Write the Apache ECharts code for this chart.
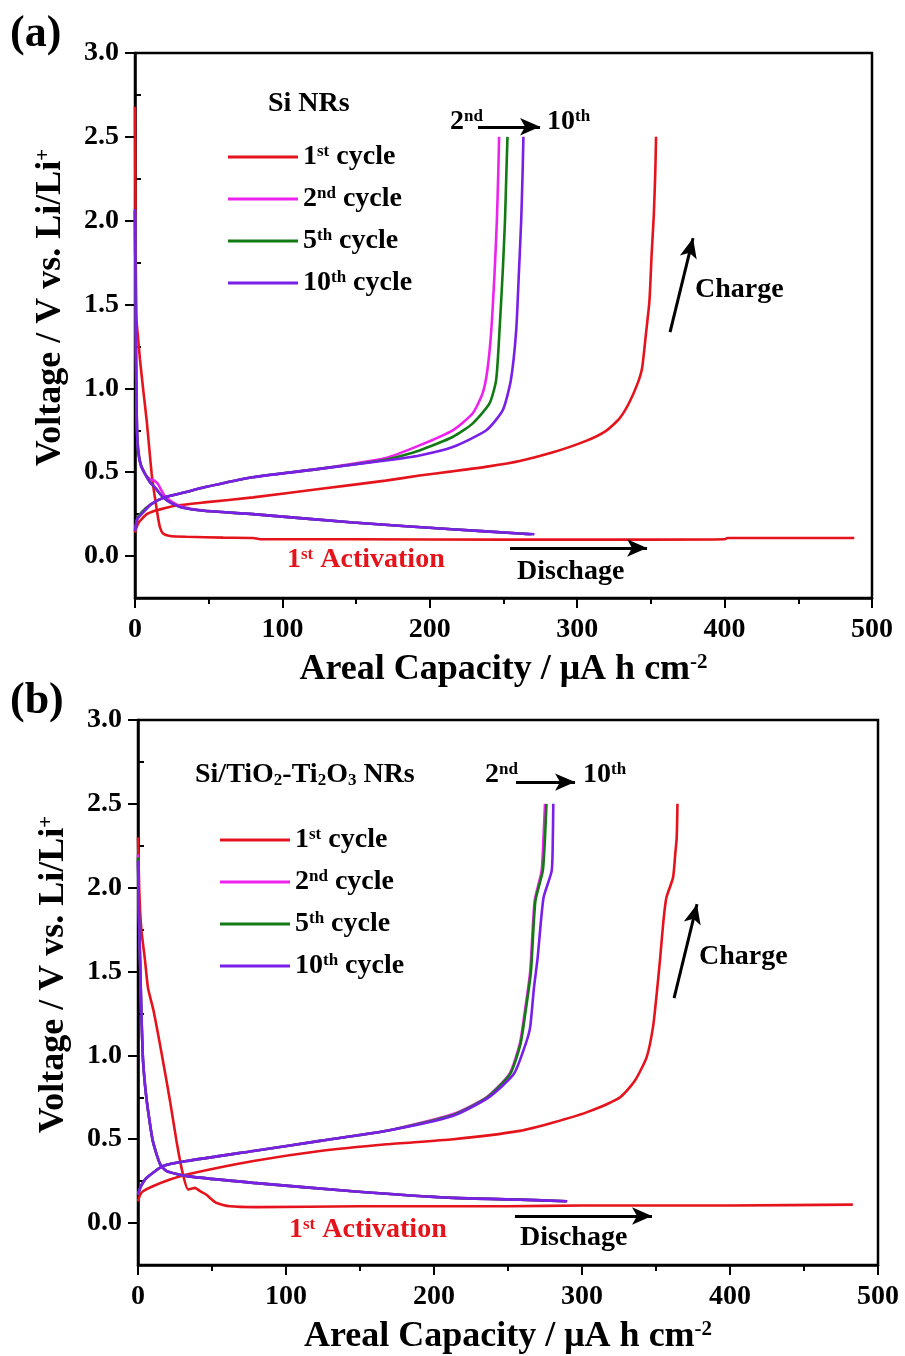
<!DOCTYPE html>
<html>
<head>
<meta charset="utf-8">
<script src="https://cdn.jsdelivr.net/npm/echarts@6/dist/echarts.min.js"></script>
<style>
  html, body { margin: 0; padding: 0; background: #fff; }
  #main { width: 905px; height: 1356px; }
</style>
</head>
<body>
<div id="main"></div>
<script>
// cycle names / colours
const cycleNames = ['1st cycle', '2nd cycle', '5th cycle', '10th cycle'];
const cycleNums = ['1', '2', '5', '10'];
const cycleSups = ['st', 'nd', 'th', 'th'];
const cycleColors = ['#e5131b', '#ee22ee', '#127a12', '#7a1fe8'];

const xTicks = [0, 100, 200, 300, 400, 500];
const yMajorTicks = [0, 0.5, 1, 1.5, 2, 2.5, 3];
const yMinorTicks = [-0.25, 0.25, 0.75, 1.25, 1.75, 2.25, 2.75];

// (a) Si NRs  [capacity, voltage]
const a1Dis = [[0,2.68],[0.2,2.3],[0.4,1.9],[0.7,1.6],[1.1,1.4],[2.2,1.29],[3.4,1.17],[5.6,0.99],[7.9,0.81],[9.6,0.65],[11.3,0.49],[12.8,0.39],[14.2,0.31],[15.6,0.23],[17,0.17],[19,0.135],[23.7,0.12],[35,0.115],[60,0.11],[80,0.108],[85,0.10],[150,0.10],[250,0.098],[350,0.098],[400,0.10],[402,0.108],[488,0.108]];
const a1Ch = [[0,0.14],[1,0.17],[2.5,0.2],[4.5,0.22],[8,0.25],[13.5,0.27],[20,0.285],[27,0.30],[47,0.32],[80,0.35],[125,0.40],[170,0.45],[193,0.48],[215,0.505],[240,0.535],[261,0.567],[283,0.617],[306,0.687],[319.6,0.747],[328.6,0.82],[335,0.91],[341,1.03],[344,1.12],[346.7,1.33],[349,1.52],[350.5,1.8],[352,2.04],[353,2.3],[353.5,2.5]];
const a2Dis = [[0,2.05],[0.4,1.5],[0.9,1.0],[1.4,0.75],[2.3,0.63],[4,0.54],[6.8,0.49],[10,0.46],[13,0.45],[15.6,0.43],[18,0.39],[20,0.36],[24,0.33],[31.6,0.295],[47,0.27],[80,0.25],[148,0.20],[215,0.16],[261,0.135],[268,0.13]];
const a2Ch = [[0,0.15],[1.5,0.22],[4.5,0.26],[11,0.31],[20,0.35],[34,0.38],[47,0.41],[80,0.47],[125,0.52],[170,0.585],[193,0.66],[215.5,0.75],[229,0.85],[235.8,0.97],[239,1.105],[241.7,1.345],[244,1.7],[245.5,2.0],[246.5,2.3],[247,2.5]];
const a5Dis = [[0,2.06],[0.4,1.5],[0.9,1.0],[1.4,0.74],[2.3,0.62],[4,0.545],[6.8,0.49],[10,0.445],[13.5,0.41],[18,0.36],[22,0.33],[26,0.31],[31.6,0.29],[47,0.27],[80,0.25],[148,0.20],[215,0.16],[261,0.135],[269,0.13]];
const a5Ch = [[0,0.15],[1.5,0.22],[4.5,0.26],[11,0.31],[20,0.35],[34,0.38],[47,0.41],[80,0.47],[125,0.52],[170,0.575],[193,0.63],[215.5,0.71],[229,0.79],[240.5,0.91],[245,1.05],[247.3,1.345],[249.5,1.7],[251,2.0],[252,2.3],[252.7,2.5]];
const a10Dis = [[0,2.07],[0.4,1.5],[0.9,1.0],[1.4,0.72],[2.3,0.61],[4,0.54],[6.8,0.49],[10,0.44],[13.5,0.41],[18,0.36],[22,0.33],[26,0.31],[31.6,0.29],[47,0.27],[80,0.25],[148,0.20],[215,0.16],[261,0.135],[271,0.13]];
const a10Ch = [[0,0.15],[1.5,0.22],[4.5,0.25],[11,0.31],[20,0.35],[34,0.38],[47,0.41],[80,0.47],[125,0.52],[170,0.57],[193,0.60],[215.5,0.65],[238.3,0.75],[249.5,0.87],[255,1.05],[258.6,1.345],[260.5,1.7],[262,2.0],[263,2.3],[263.5,2.5]];

// (b) Si/TiO2-Ti2O3 NRs
const b1Dis = [[0,2.30],[0.8,2.0],[1.5,1.85],[2.5,1.73],[4.7,1.57],[6.8,1.40],[10.4,1.27],[16,1.01],[21.6,0.73],[26,0.49],[30.4,0.29],[33.9,0.20],[36,0.205],[38.5,0.21],[42,0.19],[46,0.17],[53,0.12],[62,0.10],[80,0.095],[150,0.10],[250,0.10],[300,0.105],[400,0.105],[483,0.11]];
const b1Ch = [[0,0.13],[1.5,0.17],[3.4,0.19],[10,0.22],[21.6,0.26],[33,0.29],[78,0.37],[123,0.43],[168,0.47],[213,0.50],[258,0.55],[280.6,0.60],[303,0.66],[325.7,0.75],[335.8,0.85],[343.7,0.99],[348,1.17],[350.5,1.37],[352.7,1.57],[355,1.8],[357,1.94],[361.5,2.06],[363,2.2],[364,2.30],[364.5,2.5]];
const b2Dis = [[0,2.2],[0.5,1.9],[1.4,1.57],[2.3,1.25],[3.4,0.97],[5,0.8],[6.8,0.67],[10,0.49],[15,0.35],[19.4,0.31],[33,0.28],[78,0.24],[145,0.19],[213,0.15],[258,0.14],[290,0.13]];
const b2Ch = [[0,0.17],[2,0.22],[5.9,0.27],[17,0.34],[33,0.37],[78,0.43],[123,0.49],[168,0.55],[213,0.65],[235.5,0.75],[251,0.89],[258,1.07],[261.5,1.27],[265,1.5],[268,1.92],[272.7,2.10],[274,2.3],[275,2.5]];
const b5Dis = [[0,2.18],[0.5,1.9],[1.4,1.57],[2.3,1.25],[3.4,0.97],[5,0.8],[6.8,0.67],[10,0.49],[15,0.35],[19.4,0.31],[33,0.28],[78,0.24],[145,0.19],[213,0.15],[258,0.14],[289,0.13]];
const b5Ch = [[0,0.17],[2,0.22],[5.9,0.27],[17,0.34],[33,0.37],[78,0.43],[123,0.49],[168,0.55],[213,0.645],[236,0.75],[251.5,0.89],[258.5,1.07],[262,1.27],[265.5,1.5],[268.5,1.92],[273.5,2.1],[275,2.3],[276,2.5]];
const b10Dis = [[0,2.16],[0.5,1.9],[1.4,1.57],[2.3,1.25],[3.4,0.97],[5,0.8],[6.8,0.67],[10,0.49],[15,0.35],[19.4,0.31],[33,0.28],[78,0.24],[145,0.19],[213,0.15],[258,0.14],[290,0.13]];
const b10Ch = [[0,0.17],[2,0.22],[5.9,0.27],[17,0.34],[33,0.37],[78,0.43],[123,0.49],[168,0.55],[213,0.64],[237,0.75],[254,0.89],[262,1.07],[265,1.17],[267.5,1.4],[270,1.58],[274,1.94],[279.5,2.10],[280.3,2.3],[280.6,2.5]];

const panelA = [[a1Dis, a1Ch], [a2Dis, a2Ch], [a5Dis, a5Ch], [a10Dis, a10Ch]];
const panelB = [[b1Dis, b1Ch], [b2Dis, b2Ch], [b5Dis, b5Ch], [b10Dis, b10Ch]];

// annotation arrows, in data coordinates
const arrowsA = [[[232.7,2.56],[274.8,2.56]], [[363,1.336],[378.6,1.896]], [[254.4,0.048],[347.4,0.048]]];
const arrowsB = [[[255.4,2.63],[295.3,2.63]], [[362.2,1.342],[377.7,1.902]], [[254.7,0.042],[347.3,0.042]]];

const FONT = '"Liberation Serif", "Times New Roman", serif';

var myChart = echarts.init(document.getElementById('main'));

function richSet(size) {
  return {
    n: { fontFamily: FONT, fontWeight: 'bold', fontSize: size, color: '#000', lineHeight: size },
    s: { fontFamily: FONT, fontWeight: 'bold', fontSize: Math.round(size * 0.6), color: '#000', verticalAlign: 'top', lineHeight: Math.round(size * 0.6) }
  };
}

function makeSeries(panel, gi, arrows) {
  let out = [];
  panel.forEach((pair, i) => {
    pair.forEach((d, k) => {
      let s = {
        type: 'line',
        name: cycleNames[i],
        xAxisIndex: gi,
        yAxisIndex: gi * 2,
        data: d,
        showSymbol: false,
        symbol: 'none',
        smooth: 0.2,
        itemStyle: { color: cycleColors[i] },
        lineStyle: { color: cycleColors[i], width: 2.6 },
        z: 2 + i
      };
      if (i === 0 && k === 0) {
        s.markLine = {
          silent: true,
          symbol: ['none', 'arrow'],
          symbolSize: [13, 20],
          lineStyle: { color: '#000', width: 3, type: 'solid' },
          label: { show: false },
          data: arrows.map(a => [{ coord: a[0] }, { coord: a[1] }])
        };
      }
      out.push(s);
    });
  });
  return out;
}

function xAxisOf(gi) {
  return {
    gridIndex: gi, type: 'value', min: 0, max: 500, interval: 100,
    axisLine: { show: true, onZero: false, lineStyle: { color: '#000', width: 2.5 } },
    axisTick: { show: true, length: 10, lineStyle: { color: '#000', width: 2 } },
    minorTick: { show: true, splitNumber: 2, length: 6, lineStyle: { color: '#000', width: 2 } },
    splitLine: { show: false },
    axisLabel: { fontFamily: FONT, fontWeight: 'bold', fontSize: 28, color: '#000', margin: 18 },
    name: '{t|Areal Capacity / μA h cm}{s|-2}',
    nameLocation: 'middle', nameGap: 54,
    nameTextStyle: {
      rich: {
        t: { fontFamily: FONT, fontWeight: 'bold', fontSize: 36, color: '#000', lineHeight: 36 },
        s: { fontFamily: FONT, fontWeight: 'bold', fontSize: 21, color: '#000', verticalAlign: 'top', lineHeight: 21 }
      }
    }
  };
}

function yAxesOf(gi) {
  return [{
    gridIndex: gi, type: 'value', min: -0.25, max: 3, interval: 0.25,
    axisLine: { show: true, onZero: false, lineStyle: { color: '#000', width: 2.5 } },
    axisTick: { show: true, length: 10, customValues: yMajorTicks, lineStyle: { color: '#000', width: 2 } },
    splitLine: { show: false },
    axisLabel: { customValues: yMajorTicks, formatter: v => v.toFixed(1), fontFamily: FONT, fontWeight: 'bold', fontSize: 28, color: '#000', margin: 16 },
    name: '{t|Voltage / V vs. Li/Li}{s|+}',
    nameLocation: 'middle', nameGap: 66,
    nameTextStyle: {
      padding: [0, 0, 0, 36],
      rich: {
        t: { fontFamily: FONT, fontWeight: 'bold', fontSize: 36, color: '#000', lineHeight: 36 },
        s: { fontFamily: FONT, fontWeight: 'bold', fontSize: 21, color: '#000', verticalAlign: 'top', lineHeight: 21 }
      }
    }
  }, {
    gridIndex: gi, type: 'value', min: -0.25, max: 3, interval: 0.25,
    axisLine: { show: false },
    axisTick: { show: true, length: 6, customValues: yMinorTicks, lineStyle: { color: '#000', width: 2 } },
    axisLabel: { show: false },
    splitLine: { show: false }
  }];
}

function legendOf(left, top) {
  return {
    data: cycleNames, orient: 'vertical', left: left, top: top,
    itemWidth: 70, itemHeight: 3, itemGap: 14, icon: 'rect', selectedMode: false,
    formatter: name => {
      const i = cycleNames.indexOf(name);
      return '{n|' + cycleNums[i] + '}{s|' + cycleSups[i] + '}{n| cycle}';
    },
    textStyle: { rich: richSet(28) }
  };
}

function txt(x, y, text, size, color, rich) {
  return {
    type: 'text', z: 100,
    style: {
      x: x, y: y, text: text, align: 'left', verticalAlign: 'middle',
      fontFamily: FONT, fontWeight: 'bold', fontSize: size, fill: color || '#000',
      rich: rich
    }
  };
}

function zr(size, color) {
  const c = color || '#000';
  return {
    n: { fontFamily: FONT, fontWeight: 'bold', fontSize: size, fill: c, lineHeight: size },
    s: { fontFamily: FONT, fontWeight: 'bold', fontSize: Math.round(size * 0.6), fill: c, verticalAlign: 'top', lineHeight: Math.round(size * 0.6) },
    b: { fontFamily: FONT, fontWeight: 'bold', fontSize: Math.round(size * 0.6), fill: c, verticalAlign: 'bottom', lineHeight: Math.round(size * 0.6) }
  };
}

const RED = '#e5131b';

var option = {
  animation: false,
  backgroundColor: '#fff',
  grid: [
    { left: 135, top: 53, width: 737, height: 545, show: true, borderColor: '#000', borderWidth: 2.5, backgroundColor: 'transparent' },
    { left: 138, top: 720, width: 740, height: 545, show: true, borderColor: '#000', borderWidth: 2.5, backgroundColor: 'transparent' }
  ],
  xAxis: [xAxisOf(0), xAxisOf(1)],
  yAxis: yAxesOf(0).concat(yAxesOf(1)),
  legend: [legendOf(223, 138), legendOf(215, 821)],
  graphic: [
    txt(10, 35, '(a)', 44),
    txt(268, 104, '{n|Si NRs}', 28, '#000', zr(28)),
    txt(450, 122, '{n|2}{s|nd}', 28, '#000', zr(28)),
    txt(547, 122, '{n|10}{s|th}', 28, '#000', zr(28)),
    txt(695, 290, '{n|Charge}', 28, '#000', zr(28)),
    txt(517, 572, '{n|Dischage}', 28, '#000', zr(28)),
    txt(287, 560, '{n|1}{s|st}{n| Activation}', 28, RED, zr(28, RED)),

    txt(10, 702, '(b)', 44),
    txt(195, 775, '{n|Si/TiO}{b|2}{n|-Ti}{b|2}{n|O}{b|3}{n| NRs}', 28, '#000', zr(28)),
    txt(485, 775, '{n|2}{s|nd}', 28, '#000', zr(28)),
    txt(583, 775, '{n|10}{s|th}', 28, '#000', zr(28)),
    txt(699, 957, '{n|Charge}', 28, '#000', zr(28)),
    txt(520, 1238, '{n|Dischage}', 28, '#000', zr(28)),
    txt(289, 1230, '{n|1}{s|st}{n| Activation}', 28, RED, zr(28, RED))
  ],
  series: makeSeries(panelA, 0, arrowsA).concat(makeSeries(panelB, 1, arrowsB))
};

myChart.setOption(option);
</script>
</body>
</html>
